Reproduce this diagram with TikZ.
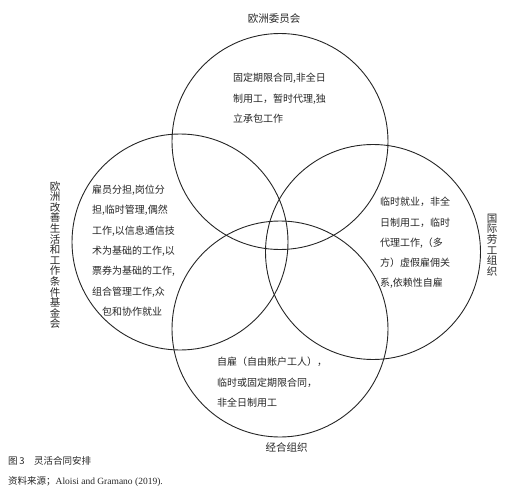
\documentclass[tikz,border=0pt]{standalone}
\usepackage{fontspec}
\setmainfont{Liberation Serif}
\newfontfamily\cjk{Noto Sans CJK SC}
\begin{document}
\begin{tikzpicture}[x=1pt,y=-1pt,
  ring/.style={draw=black!85, line width=0.9pt},
  blk/.style={anchor=north west, inner sep=0pt, align=left, text=black!85,
              font=\cjk\fontsize{10}{20.3}\selectfont},
  lbl/.style={inner sep=0pt, text=black!85, font=\cjk\fontsize{10.5}{10.6}\selectfont, align=center},
  captext/.style={anchor=west, inner sep=0pt, text=black!85, font=\fontsize{9.5}{11}\selectfont}]
\useasboundingbox (0,0) rectangle (514,493);
% circles
\draw[ring] (280,141.5) circle[radius=108];
\draw[ring] (180,242) circle[radius=108];
\draw[ring] (373,252) circle[radius=107.5];
\draw[ring] (280,329) circle[radius=108];
% circle labels
\node[lbl] (ec) at (274,19) {欧洲委员会};
\node[lbl] (ef) at (55,255) {欧\\洲\\改\\善\\生\\活\\和\\工\\作\\条\\件\\基\\金\\会};
\node[lbl] (ilo) at (492,245) {国\\际\\劳\\工\\组\\织};
\node[lbl] (oecd) at (286.5,447) {经合组织};
% contents
\node[blk] (t1) at (233,73) {固定期限合同,非全日\\制用工，暂时代理,独\\立承包工作};
\node[blk] (t2) at (92,185) {雇员分担,岗位分\\担,临时管理,偶然\\工作,以信息通信技\\术为基础的工作,以\\票券为基础的工作,\\组合管理工作,众\\\hspace*{10pt}包和协作就业};
\node[blk] (t3) at (380,197) {临时就业，非全\\日制用工，临时\\代理工作,（多\\方）虚假雇佣关\\系,依赖性自雇};
\node[blk] (t4) at (217,357) {自雇（自由账户工人），\\临时或固定期限合同，\\非全日制用工};
% caption
\node[captext] (c1) at (8,461) {\cjk 图\,3\quad 灵活合同安排};
\node[captext] (c2) at (8,482) {{\cjk 资料来源；}Aloisi and Gramano (2019).};
\end{tikzpicture}
\end{document}
